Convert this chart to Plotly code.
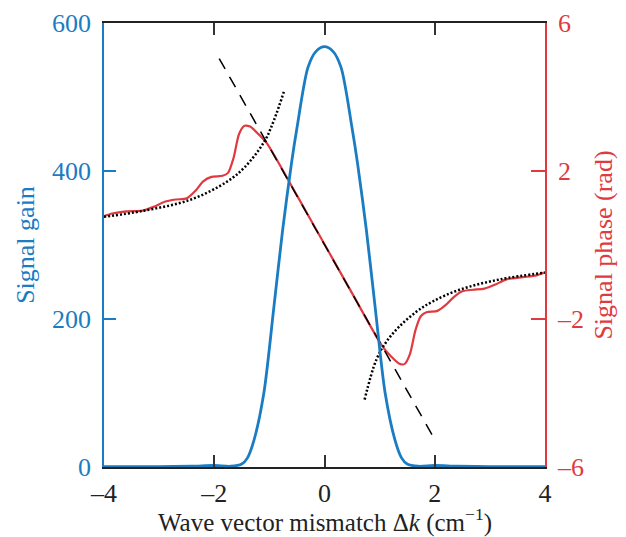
import plotly.graph_objects as go

BLUE = "#1a7cc2"
RED = "#e03a40"
FONT = "Liberation Serif"

# signal gain (left axis)
gain_x = [-4.0, -3.0, -2.4, -2.0, -1.7, -1.5, -1.4, -1.28, -1.1, -0.92, -0.76, -0.6, -0.5, -0.3, -0.15, 0.0,
          0.15, 0.3, 0.5, 0.6, 0.76, 0.92, 1.1, 1.28, 1.4, 1.5, 1.7, 2.0, 2.4, 3.0, 4.0]
gain_y = [0.5, 0.5, 1, 2, 1, 4, 12, 36, 100, 215, 320, 410, 458, 540, 562, 568,
          562, 540, 458, 410, 320, 215, 100, 36, 12, 4, 1, 2, 1, 0.5, 0.5]

# signal phase (right axis)
phase_x = [-4.0, -3.85, -3.6, -3.3, -3.1, -2.9, -2.7, -2.5, -2.35, -2.2, -2.05, -1.85, -1.75, -1.65, -1.55,
           -1.45, -1.35, -1.2, -1.05, -0.5, 0.0, 0.5, 1.05, 1.2, 1.35, 1.45, 1.55, 1.65, 1.75, 1.85, 2.05,
           2.2, 2.35, 2.5, 2.7, 2.9, 3.1, 3.3, 3.6, 3.85, 4.0]
phase_y = [0.78, 0.85, 0.91, 0.93, 1.03, 1.17, 1.23, 1.26, 1.45, 1.72, 1.84, 1.87, 1.95, 2.35, 3.0,
           3.22, 3.2, 3.0, 2.76, 1.34, 0.02, -1.3, -2.74, -3.0, -3.2, -3.22, -2.95, -2.3, -1.92, -1.82, -1.78,
           -1.62, -1.4, -1.25, -1.21, -1.18, -1.07, -0.93, -0.87, -0.82, -0.74]

# linear phase asymptote (dashed)
lin_x = [-1.91, 1.99]
lin_y = [5.04, -5.23]

# large-mismatch phase (dotted)
far_left_x = [-4.0, -3.3, -2.42, -1.76, -1.45, -1.09, -0.91, -0.727]
far_left_y = [0.76, 0.92, 1.23, 1.72, 2.1, 2.8, 3.4, 4.19]
far_right_x = [0.727, 0.94, 1.12, 1.36, 1.67, 1.97, 2.45, 3.18, 4.0]
far_right_y = [-4.18, -3.1, -2.62, -2.2, -1.8, -1.52, -1.21, -0.93, -0.75]

fig = go.Figure()

fig.add_trace(go.Scatter(x=phase_x, y=phase_y, mode="lines", yaxis="y",
                         line=dict(color=RED, width=2.2, shape="spline", smoothing=0.7)))
fig.add_trace(go.Scatter(x=lin_x, y=lin_y, mode="lines", yaxis="y",
                         line=dict(color="black", width=1.5, dash="12px,9px")))
fig.add_trace(go.Scatter(x=far_left_x, y=far_left_y, mode="lines", yaxis="y",
                         line=dict(color="black", width=2.5, dash="2px,2px", shape="spline")))
fig.add_trace(go.Scatter(x=far_right_x, y=far_right_y, mode="lines", yaxis="y",
                         line=dict(color="black", width=2.5, dash="2px,2px", shape="spline")))
fig.add_trace(go.Scatter(x=gain_x, y=gain_y, mode="lines", yaxis="y2",
                         line=dict(color=BLUE, width=2.8, shape="spline", smoothing=0.8)))

# the page body adds an 8px offset, so margins are trimmed to land the frame where the reference has it
fig.update_layout(
    width=626, height=537,
    margin=dict(l=96, r=89, t=15, b=78),
    paper_bgcolor="white", plot_bgcolor="white",
    showlegend=False,
    font=dict(family=FONT, size=26, color="#222"),
    xaxis=dict(
        range=[-4, 4], tickvals=[-4, -2, 0, 2, 4], ticktext=["–4", "–2", "0", "2", "4"],
        ticks="inside", ticklen=12, tickwidth=1.5, tickcolor="#333",
        showline=True, linecolor="#222", linewidth=1.5, mirror="ticks",
        showgrid=False, zeroline=False, ticklabelstandoff=2, automargin=False,
    ),
    yaxis=dict(
        side="right", range=[-6, 6], tickvals=[-6, -2, 2, 6], ticktext=["–6", "–2", "2", "6"],
        ticks="inside", ticklen=14, tickwidth=1.5, tickcolor=RED,
        showline=True, linecolor=RED, linewidth=1.5,
        showgrid=False, zeroline=False, ticklabelstandoff=6, automargin=False,
        tickfont=dict(color=RED, size=26),
        title=dict(text="Signal phase (rad)", font=dict(color=RED, size=26), standoff=11),
    ),
    yaxis2=dict(
        side="left", overlaying="y", range=[0, 600], tickvals=[0, 200, 400, 600],
        ticks="inside", ticklen=12, tickwidth=1.5, tickcolor=BLUE,
        showline=True, linecolor=BLUE, linewidth=1.5,
        showgrid=False, zeroline=False, ticklabelstandoff=6, automargin=False,
        tickfont=dict(color=BLUE, size=26),
        title=dict(text="Signal gain", font=dict(color=BLUE, size=26), standoff=10),
    ),
)

# x title as an annotation so it sits closer to the tick labels
fig.add_annotation(
    text="Wave vector mismatch Δ<i>k</i> (cm<sup>−1</sup>)",
    xref="paper", yref="paper", x=0.5, y=0, yanchor="middle", yshift=-53,
    showarrow=False, font=dict(family=FONT, size=25, color="#222"),
)

fig.write_html("out.html")
